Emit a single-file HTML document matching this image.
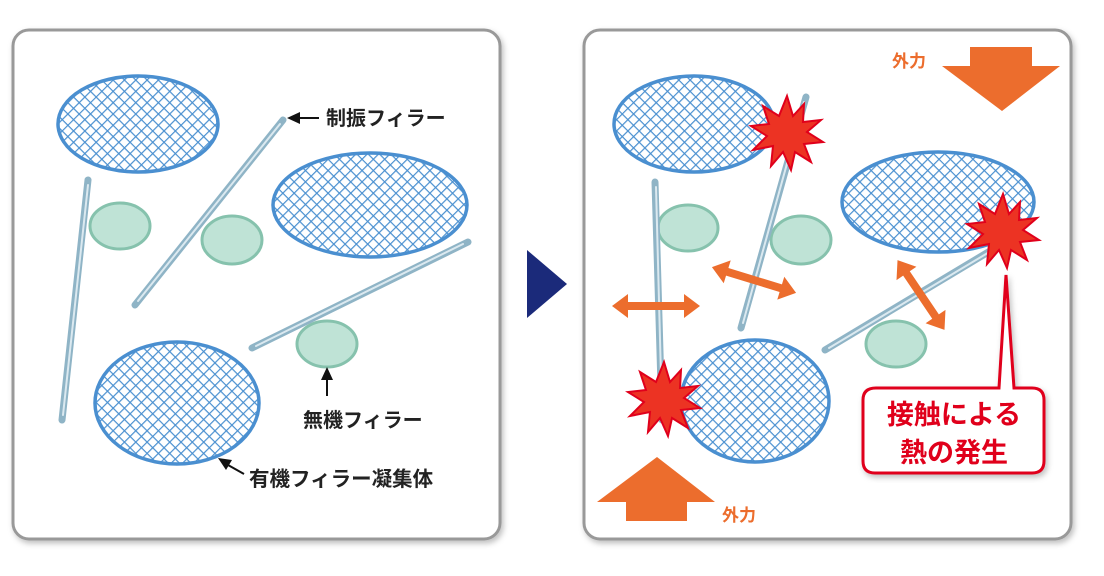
<!DOCTYPE html>
<html><head><meta charset="utf-8"><style>
html,body{margin:0;padding:0;background:#fff;width:1104px;height:576px;overflow:hidden}
svg text{font-family:"Liberation Sans","Noto Sans CJK JP",sans-serif;font-weight:bold}
</style></head><body>
<svg width="1104" height="576" viewBox="0 0 1104 576" xmlns="http://www.w3.org/2000/svg">
<defs>
<pattern id="hatch" width="8" height="8" patternUnits="userSpaceOnUse" patternTransform="rotate(45)">
<rect width="8" height="8" fill="#fff"/>
<line x1="0" y1="0" x2="0" y2="8" stroke="#4a90d0" stroke-width="2.4"/>
<line x1="0" y1="0" x2="8" y2="0" stroke="#4a90d0" stroke-width="2.4"/>
</pattern>
<filter id="sh" x="-5%" y="-5%" width="110%" height="110%"><feDropShadow dx="2" dy="3" stdDeviation="3" flood-color="#000" flood-opacity="0.25"/></filter>
</defs>

<rect x="13" y="30" width="487" height="509" rx="16" fill="#fff" stroke="#999" stroke-width="3" filter="url(#sh)"/>
<rect x="584" y="30" width="487" height="509" rx="16" fill="#fff" stroke="#999" stroke-width="3" filter="url(#sh)"/>

<polygon points="527,250 567,284 527,318" fill="#1b2a7a"/>

<!-- LEFT PANEL -->
<g stroke="#4a8fd0" stroke-width="3.5" fill="url(#hatch)">
<ellipse cx="138" cy="124" rx="80" ry="48"/>
<ellipse cx="370" cy="205" rx="97" ry="52"/>
<ellipse cx="177" cy="403" rx="82" ry="61"/>
</g>
<g fill="#bfe3d6" stroke="#86c2ad" stroke-width="3">
<ellipse cx="120" cy="226" rx="30" ry="23"/>
<ellipse cx="232" cy="240" rx="30" ry="24"/>
<ellipse cx="327" cy="344" rx="30" ry="23"/>
</g>
<g stroke="#8fb4c6" stroke-linecap="round">
<line x1="88" y1="180" x2="62" y2="420" stroke-width="7"/>
<line x1="283" y1="120" x2="135" y2="305" stroke-width="7"/>
<line x1="468" y1="242" x2="252" y2="348" stroke-width="7"/>
</g>
<g stroke="#dbe9f0" stroke-linecap="round">
<line x1="88" y1="185" x2="63" y2="415" stroke-width="2"/>
<line x1="280" y1="124" x2="138" y2="301" stroke-width="2"/>
<line x1="463" y1="244" x2="256" y2="346" stroke-width="2"/>
</g>
<g stroke="#111" stroke-width="2">
<line x1="319" y1="118" x2="298" y2="118"/>
<line x1="327" y1="396" x2="327" y2="378"/>
<line x1="244" y1="474" x2="228" y2="465"/>
</g>
<g fill="#111">
<polygon points="287,118 300,112 300,124"/>
<polygon points="327,367 321,380 333,380"/>
<polygon points="218,458 232,460 226,470"/>
</g>
<g font-size="20" fill="#222">
<text x="326" y="125">制振フィラー</text>
<text x="303" y="427">無機フィラー</text>
<text x="249" y="486" font-size="20.5">有機フィラー凝集体</text>
</g>

<!-- RIGHT PANEL -->
<g stroke="#4a8fd0" stroke-width="3.5" fill="url(#hatch)">
<ellipse cx="694" cy="124" rx="80" ry="48"/>
<ellipse cx="938" cy="202" rx="96" ry="50"/>
<ellipse cx="755" cy="401" rx="74" ry="61"/>
</g>
<g fill="#bfe3d6" stroke="#86c2ad" stroke-width="3">
<ellipse cx="688" cy="228" rx="30" ry="23"/>
<ellipse cx="801" cy="240" rx="30" ry="24"/>
<ellipse cx="896" cy="344" rx="30" ry="23"/>
</g>
<g stroke="#8fb4c6" stroke-linecap="round">
<line x1="655" y1="182" x2="662" y2="420" stroke-width="7"/>
<line x1="806" y1="97" x2="741" y2="328" stroke-width="7"/>
<line x1="1000" y1="245" x2="825" y2="350" stroke-width="7"/>
</g>
<g stroke="#dbe9f0" stroke-linecap="round">
<line x1="656" y1="187" x2="662" y2="415" stroke-width="2"/>
<line x1="804" y1="102" x2="743" y2="323" stroke-width="2"/>
<line x1="996" y1="248" x2="829" y2="348" stroke-width="2"/>
</g>

<g fill="#ec6d2d">
<g transform="translate(656,306)"><polygon points="-44,0 -28,-12 -28,-4 28,-4 28,-12 44,0 28,12 28,4 -28,4 -28,12"/></g>
<g transform="translate(754,280) rotate(17)"><polygon points="-44,0 -28,-12 -28,-4 28,-4 28,-12 44,0 28,12 28,4 -28,4 -28,12"/></g>
<g transform="translate(921,295) rotate(56)"><polygon points="-42,0 -26,-12 -26,-4 26,-4 26,-12 42,0 26,12 26,4 -26,4 -26,12"/></g>
<polygon points="970,47 1032,47 1032,66 1060,66 1002,111 942,66 970,66"/>
<polygon points="657,457 715,502 687,502 687,521 626,521 626,502 597,502"/>
</g>
<g font-size="17" fill="#ec6d2d">
<text x="892" y="67">外力</text>
<text x="722" y="521">外力</text>
</g>

<g fill="#ec3323" stroke="#e0001b" stroke-width="2">
<polygon transform="translate(787,134)" points="0,-38 6,-18 17,-30 16,-12 34,-14 20,-2 36,8 17,10 24,28 8,18 4,36 -4,18 -16,32 -14,12 -34,16 -20,2 -36,-8 -18,-10 -24,-28 -8,-18"/>
<polygon transform="translate(1003,232)" points="0,-38 6,-18 17,-30 16,-12 34,-14 20,-2 36,8 17,10 24,28 8,18 4,36 -4,18 -16,32 -14,12 -34,16 -20,2 -36,-8 -18,-10 -24,-28 -8,-18"/>
<polygon transform="translate(664,400)" points="0,-38 6,-18 17,-30 16,-12 34,-14 20,-2 36,8 17,10 24,28 8,18 4,36 -4,18 -16,32 -14,12 -34,16 -20,2 -36,-8 -18,-10 -24,-28 -8,-18"/>
</g>

<path d="M876,388 L999,388 L1006,275 L1014,388 L1032,388 Q1044,388 1044,400 L1044,461 Q1044,473 1032,473 L875,473 Q863,473 863,461 L863,400 Q863,388 876,388Z" fill="#fff" stroke="#e0001b" stroke-width="3" filter="url(#sh)"/>
<g font-size="27" fill="#e0001b" text-anchor="middle">
<text x="954" y="424">接触による</text>
<text x="954" y="462">熱の発生</text>
</g>
</svg>
</body></html>
